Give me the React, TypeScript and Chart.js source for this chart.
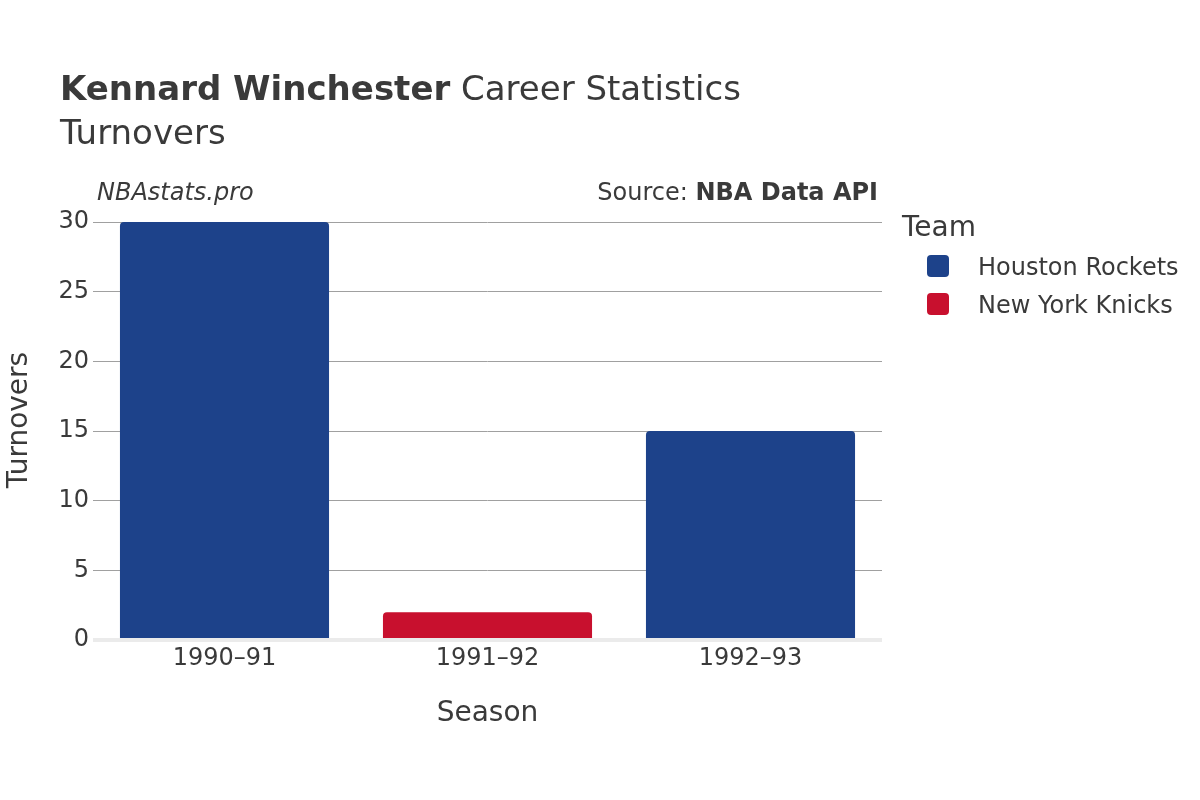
import React, { useEffect, useRef } from "react";
import { Chart, registerables } from "chart.js";

Chart.register(...registerables);

const seasons = ["1990–91", "1991–92", "1992–93"];
const houstonRockets = [30, null, 15];
const newYorkKnicks = [null, 2, null];
const yTicks = [0, 5, 10, 15, 20, 25, 30];

const FONT = "'DejaVu Sans', sans-serif";
const TEXT = "#3a3a3a";
const BLUE = "#1D428A";
const RED = "#C8102E";

const textPlugin = {
  id: "textPlugin",
  afterDraw(chart: any) {
    const ctx = chart.ctx;
    ctx.save();
    ctx.fillStyle = TEXT;
    ctx.textBaseline = "alphabetic";
    // Title
    ctx.textAlign = "left";
    ctx.font = `bold 34px ${FONT}`;
    const bold = "Kennard Winchester";
    ctx.fillText(bold, 60, 100);
    const bw = ctx.measureText(bold).width;
    ctx.font = `34px ${FONT}`;
    ctx.fillText(" Career Statistics", 60 + bw, 100);
    ctx.fillText("Turnovers", 60, 144);
    // Credits
    ctx.font = `italic 24px ${FONT}`;
    ctx.fillText("NBAstats.pro", 97, 200);
    ctx.textAlign = "right";
    ctx.font = `bold 24px ${FONT}`;
    const src = "NBA Data API";
    ctx.fillText(src, 878, 200);
    const sw = ctx.measureText(src).width;
    ctx.font = `24px ${FONT}`;
    ctx.fillText("Source: ", 878 - sw, 200);
    // Axis titles
    ctx.textAlign = "center";
    ctx.font = `28px ${FONT}`;
    const area = chart.chartArea;
    ctx.fillText("Season", (area.left + area.right) / 2, 721);
    ctx.save();
    ctx.translate(27, 420);
    ctx.rotate(-Math.PI / 2);
    ctx.fillText("Turnovers", 0, 0);
    ctx.restore();
    // Legend
    ctx.textAlign = "left";
    ctx.font = `28px ${FONT}`;
    ctx.fillText("Team", 902, 236);
    const items = chart.data.datasets;
    items.forEach((ds: any, i: number) => {
      const cy = 266 + i * 38;
      ctx.fillStyle = ds.backgroundColor;
      ctx.beginPath();
      (ctx as any).roundRect(927, cy - 11, 22, 22, 4);
      ctx.fill();
      ctx.fillStyle = TEXT;
      ctx.font = `24px ${FONT}`;
      ctx.fillText(ds.label, 978, cy + 9);
    });
    ctx.restore();
  },
};

export default function App() {
  const ref = useRef<HTMLCanvasElement>(null);
  useEffect(() => {
    if (!ref.current) return;
    const chart = new Chart(ref.current, {
      type: "bar",
      data: {
        labels: seasons,
        datasets: [
          {
            label: "Houston Rockets",
            data: houstonRockets,
            backgroundColor: BLUE,
            grouped: false,
            barPercentage: 0.795,
            categoryPercentage: 1,
            borderRadius: 4,
            borderSkipped: "start",
          } as any,
          {
            label: "New York Knicks",
            data: newYorkKnicks,
            backgroundColor: RED,
            grouped: false,
            barPercentage: 0.795,
            categoryPercentage: 1,
            borderRadius: 4,
            borderSkipped: "start",
          } as any,
        ],
      },
      options: {
        responsive: false,
        animation: false,
        layout: { padding: { left: 0, right: 318, top: 222, bottom: 0 } },
        plugins: {
          legend: { display: false },
          title: { display: false },
          tooltip: { enabled: false },
        },
        scales: {
          x: {
            grid: { display: false, drawTicks: false },
            border: { display: false },
            ticks: {
              color: TEXT,
              font: { family: FONT, size: 24 },
              padding: 4,
              maxRotation: 0,
            },
            afterFit(scale: any) {
              scale.height = 160;
            },
          },
          y: {
            min: 0,
            max: 30,
            afterBuildTicks(scale: any) {
              scale.ticks = yTicks.map((v) => ({ value: v }));
            },
            grid: {
              drawTicks: false,
              color: (c: any) => (c.tick && c.tick.value === 0 ? "#ebebeb" : "#a0a0a0"),
              lineWidth: (c: any) => (c.tick && c.tick.value === 0 ? 4 : 1),
              z: -1,
            },
            border: { display: false },
            ticks: {
              color: TEXT,
              font: { family: FONT, size: 24 },
              padding: 4,
            },
            afterFit(scale: any) {
              scale.width = 93;
            },
          },
        },
      },
      plugins: [textPlugin],
    });
    return () => chart.destroy();
  }, []);
  return (
    <div style={{ position: "fixed", left: 0, top: 0, width: 1200, height: 800, background: "#fff" }}>
      <canvas ref={ref} width={1200} height={800} />
    </div>
  );
}
